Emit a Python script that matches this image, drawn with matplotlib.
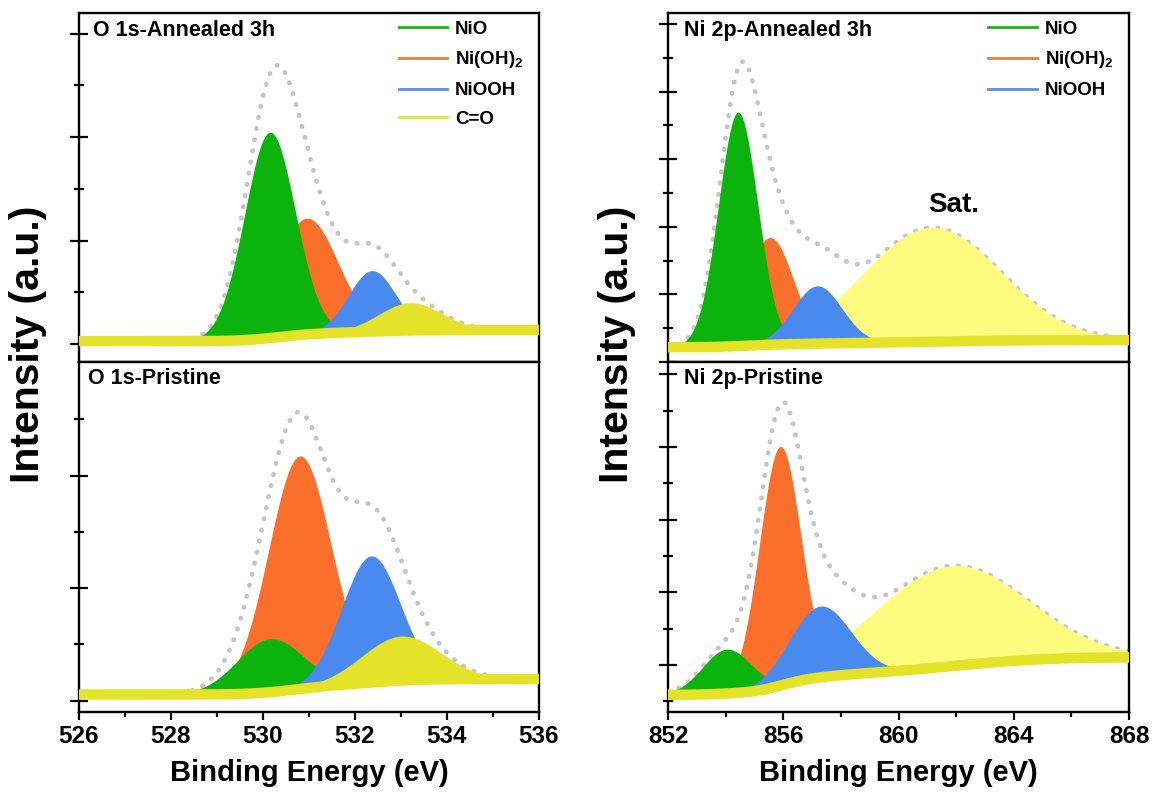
import numpy as np
import matplotlib
matplotlib.use("Agg")
import matplotlib.pyplot as plt
from matplotlib.lines import Line2D
from matplotlib.ticker import FixedLocator

plt.rcParams["font.family"] = ["Liberation Sans", "DejaVu Sans"]
plt.rcParams["font.weight"] = "bold"
plt.rcParams["mathtext.fontset"] = "custom"
plt.rcParams["mathtext.rm"] = "Liberation Sans:bold"
plt.rcParams["mathtext.it"] = "Liberation Sans:bold"
plt.rcParams["mathtext.bf"] = "Liberation Sans:bold"
plt.rcParams["mathtext.default"] = "rm"

# ---- fitted peak parameters (center eV, height cps, FWHM eV) ----
o1s_labels = ["NiO", "Ni(OH)$_2$", "NiOOH", "C=O"]
ni2p_labels = ["NiO", "Ni(OH)$_2$", "NiOOH", "Sat."]

o1s_ann_center = [530.15, 530.95, 532.37, 533.2]
o1s_ann_height = [3980, 2250, 1180, 540]
o1s_ann_fwhm = [1.3, 1.6, 1.2, 1.6]
o1s_ann_bg = [58, 270]

o1s_pri_center = [530.15, 530.8, 532.35, 533.0]
o1s_pri_height = [950, 4140, 2250, 790]
o1s_pri_fwhm = [1.7, 1.6, 1.5, 2.0]
o1s_pri_bg = [110, 385]

ni2p_ann_center = [854.43, 855.54, 857.18, 861.15]
ni2p_ann_height = [6920, 3170, 1710, 3380]
ni2p_ann_fwhm = [1.6, 1.9, 2.0, 5.6]
ni2p_ann_bg = [440, 650]

ni2p_pri_center = [854.04, 855.89, 857.28, 861.8]
ni2p_pri_height = [1220, 6580, 1960, 2760]
ni2p_pri_fwhm = [2.0, 1.7, 2.5, 6.2]
ni2p_pri_bg = [1180, 2210]

fill_cols = ["#0cb30c", "#fb6f2c", "#4a8aee", "#e5e22a"]
sat_col = "#fdfc7f"
leg_cols = ["#22b022", "#e4804a", "#5a8fdc", "#e6e23a"]
band_col = "#e5e22a"
env_col = "#c4c4c4"


def gauss(x, c, h, w):
    return h * np.exp(-4 * np.log(2) * (x - c) ** 2 / w**2)


def draw_panel(ax, xr, centers, heights, fwhms, bg_ends, colors, zorders):
    x = np.linspace(xr[0], xr[1], 800)
    peaks = [gauss(x, c, h, w) for c, h, w in zip(centers, heights, fwhms)]
    total = np.sum(peaks, axis=0)
    cum = np.cumsum(total)
    bg = bg_ends[0] + (bg_ends[1] - bg_ends[0]) * cum / cum[-1]  # shirley-ish
    ax.plot(x, bg + total, color=env_col, lw=3.4, linestyle=(0, (0.1, 2.3)),
            dash_capstyle="round", zorder=1)
    for p, col, z in zip(peaks, colors, zorders):
        ax.fill_between(x, bg, bg + p, color=col, lw=0, zorder=z)
    ax.plot(x, bg, color=band_col, lw=7.5, solid_capstyle="butt", zorder=6)
    ax.set_xlim(xr)


def style_axes(ax, ylim, ymaj, ymin, bottom):
    ax.set_ylim(ylim)
    ax.yaxis.set_major_locator(FixedLocator(ymaj))
    ax.yaxis.set_minor_locator(FixedLocator(ymin))
    ax.tick_params(axis="y", which="major", direction="inout", length=13,
                   width=1.6, labelleft=False)
    ax.tick_params(axis="y", which="minor", direction="inout", length=7,
                   width=1.6)
    for s in ax.spines.values():
        s.set_linewidth(1.7)
    if bottom:
        ax.tick_params(axis="x", which="major", direction="out", length=6,
                       width=1.6, labelsize=17.5, pad=3)
        ax.tick_params(axis="x", which="minor", direction="out", length=3.5,
                       width=1.6)
    else:
        ax.tick_params(axis="x", which="both", bottom=False, labelbottom=False)


def add_legend(ax, labels):
    handles = [Line2D([], [], color=c, lw=2) for c in leg_cols[: len(labels)]]
    ax.legend(handles, labels, loc="upper left", bbox_to_anchor=(0.695, 0.978),
              frameon=False, handlelength=2.6, handletextpad=0.4,
              labelspacing=0.62, borderpad=0, borderaxespad=0,
              prop={"size": 13.5, "weight": "bold"})


fig = plt.figure(figsize=(11.58, 7.96), dpi=100)
ax_tl = fig.add_axes([0.0682, 0.5452, 0.3972, 0.4385])
ax_bl = fig.add_axes([0.0682, 0.1055, 0.3972, 0.4397])
ax_tr = fig.add_axes([0.5769, 0.5452, 0.3981, 0.4385])
ax_br = fig.add_axes([0.5769, 0.1055, 0.3981, 0.4397])

left_z = [3, 2, 4, 5]
right_z = [3, 2, 4, 1.5]
right_cols = fill_cols[:3] + [sat_col]

draw_panel(ax_tl, (526, 536), o1s_ann_center, o1s_ann_height, o1s_ann_fwhm,
           o1s_ann_bg, fill_cols, left_z)
draw_panel(ax_bl, (526, 536), o1s_pri_center, o1s_pri_height, o1s_pri_fwhm,
           o1s_pri_bg, fill_cols, left_z)
draw_panel(ax_tr, (852, 868), ni2p_ann_center, ni2p_ann_height, ni2p_ann_fwhm,
           ni2p_ann_bg, right_cols, right_z)
draw_panel(ax_br, (852, 868), ni2p_pri_center, ni2p_pri_height, ni2p_pri_fwhm,
           ni2p_pri_bg, right_cols, right_z)

style_axes(ax_tl, (-348, 6402), [0, 2000, 4000, 6000], [1000, 3000, 5000], False)
style_axes(ax_bl, (-201, 6016), [0, 2000, 4000], [1000, 3000, 5000], True)
style_axes(ax_tr, (0, 10325), list(range(0, 10001, 2000)),
           list(range(1000, 10000, 2000)), False)
style_axes(ax_br, (707, 10336), list(range(2000, 10001, 2000)),
           list(range(1000, 10000, 2000)), True)

ax_bl.set_xticks(np.arange(526, 537, 2))
ax_bl.set_xticks(np.arange(527, 536, 2), minor=True)
ax_br.set_xticks(np.arange(852, 869, 4))
ax_br.set_xticks(np.arange(854, 867, 4), minor=True)

ax_tl.text(0.03, 0.951, "O 1s-Annealed 3h", transform=ax_tl.transAxes,
           ha="left", va="center", fontsize=15.5, fontweight="bold")
ax_bl.text(0.02, 0.954, "O 1s-Pristine", transform=ax_bl.transAxes,
           ha="left", va="center", fontsize=15.5, fontweight="bold")
ax_tr.text(0.035, 0.951, "Ni 2p-Annealed 3h", transform=ax_tr.transAxes,
           ha="left", va="center", fontsize=15.5, fontweight="bold")
ax_br.text(0.035, 0.954, "Ni 2p-Pristine", transform=ax_br.transAxes,
           ha="left", va="center", fontsize=15.5, fontweight="bold")
ax_tr.text(861.9, 4650, "Sat.", ha="center", va="center", fontsize=20,
           fontweight="bold")

add_legend(ax_tl, o1s_labels)
add_legend(ax_tr, ni2p_labels[:3])

for xc in (28 / 1158, 617 / 1158):
    fig.text(xc, 0.567, "Intensity (a.u.)", rotation=90, ha="center",
             va="center", fontsize=29.5, fontweight="bold")
fig.text(0.2668, 0.029, "Binding Energy (eV)", ha="center", va="center",
         fontsize=21, fontweight="bold")
fig.text(0.7759, 0.029, "Binding Energy (eV)", ha="center", va="center",
         fontsize=21, fontweight="bold")

fig.savefig("out.png", dpi=100)
